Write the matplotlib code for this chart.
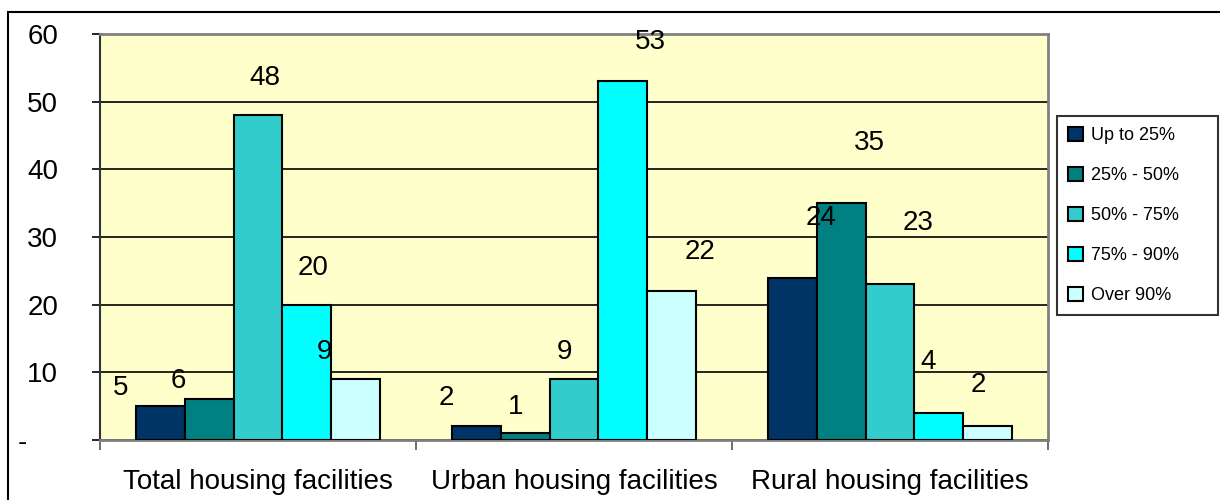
import matplotlib.pyplot as plt
import numpy as np
from matplotlib.patches import Rectangle

plt.rcParams['font.family'] = ['Liberation Sans', 'DejaVu Sans']

categories = ['Total housing facilities', 'Urban housing facilities', 'Rural housing facilities']
series = ['Up to 25%', '25% - 50%', '50% - 75%', '75% - 90%', 'Over 90%']
values = [
    [5, 2, 24],
    [6, 1, 35],
    [48, 9, 23],
    [20, 53, 4],
    [9, 22, 2],
]
colors = ['#003366', '#008080', '#33CCCC', '#00FFFF', '#CCFFFF']
yticks = [0, 10, 20, 30, 40, 50, 60]
ylabels = ['-    ', '10', '20', '30', '40', '50', '60']

# where the data labels sit, relative to the top of each bar (pixels)
label_offsets = [
    [(-39, 18), (-30, 28), (29, 60)],
    [(-31, 18), (-9, 26), (28, 60)],
    [(7, 37), (-9, 27), (28, 61)],
    [(6, 37), (27, 39), (-11, 51)],
    [(-31, 27), (28, 39), (-10, 41)],
]

fig = plt.figure(figsize=(12.2, 5), dpi=100)
ax = fig.add_axes([100 / 1220, 60 / 500, 948 / 1220, 406 / 500])
ax.set_facecolor('#FFFFCC')

x = np.arange(len(categories))
w = 0.155
for i, (name, vals) in enumerate(zip(series, values)):
    pos = x + (i - 2) * w
    ax.bar(pos, vals, w, color=colors[i], edgecolor='black', linewidth=1.5,
           label=name, zorder=3)
    for p, v, (dx, dy) in zip(pos, vals, label_offsets[i]):
        ax.annotate(str(v), (p, v), xytext=(dx, dy), textcoords='offset pixels',
                    ha='center', va='center', fontsize=20, zorder=4)

ax.set_xlim(-0.5, 2.5)
ax.set_ylim(0, 60)
ax.set_yticks(yticks)
ax.set_yticklabels(ylabels, fontsize=20)
ax.yaxis.grid(True, color='black', linewidth=1.2, zorder=1)
ax.tick_params(axis='y', length=6, width=1.2, pad=24)

ax.set_xticks([-0.5, 0.5, 1.5, 2.5])
ax.set_xticklabels([])
ax.set_xticks(x, minor=True)
ax.set_xticklabels(categories, minor=True, fontsize=20)
ax.tick_params(axis='x', which='major', length=7, width=1.2, color='#555555')
ax.tick_params(axis='x', which='minor', length=0, pad=21)

for s in ['top', 'right', 'bottom']:
    ax.spines[s].set_color('#808080')
    ax.spines[s].set_linewidth(2)
ax.spines['left'].set_color('#333333')
ax.spines['left'].set_linewidth(1.5)

leg = fig.legend(loc='upper left',
                 bbox_to_anchor=(1057 / 1220, 1 - 121 / 500, 161 / 1220, 0.01),
                 mode='expand',
                 fontsize=13, frameon=True, fancybox=False, edgecolor='black',
                 handlelength=0.85, handleheight=0.85, handletextpad=0.45,
                 labelspacing=1.25, borderpad=0.6, borderaxespad=0)
leg.get_frame().set_linewidth(1.5)

fig.patches.append(Rectangle((8 / 1220, -0.1), 1.1, 1.1 - 12 / 500,
                             transform=fig.transFigure, fill=False,
                             edgecolor='black', linewidth=1.5))

fig.savefig('out.png', dpi=100)
